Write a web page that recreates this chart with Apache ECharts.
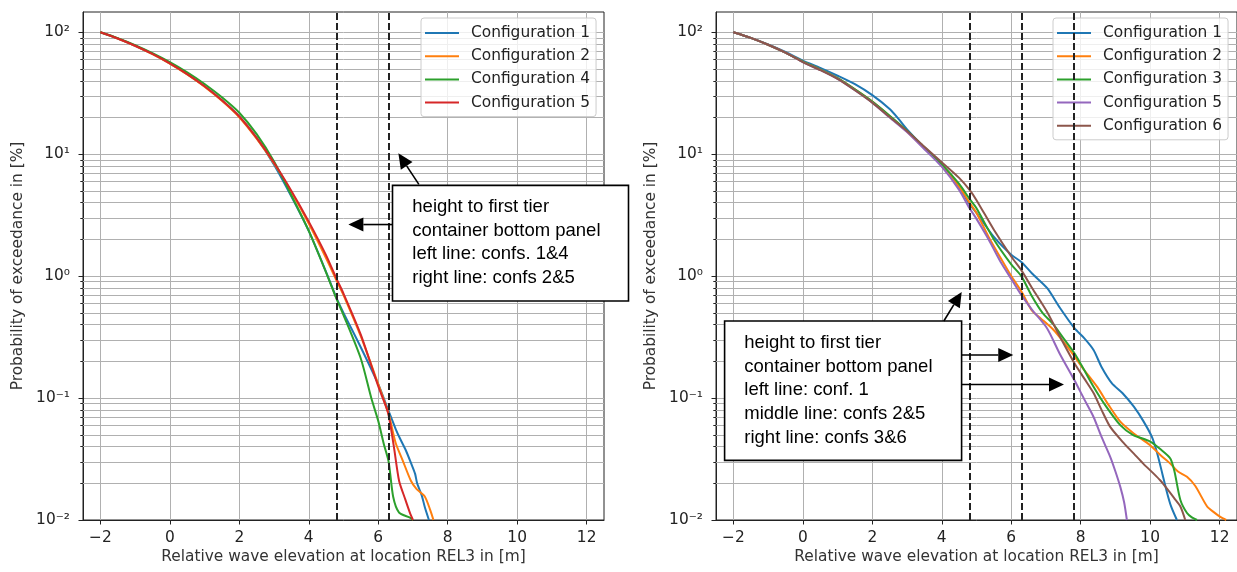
<!DOCTYPE html>
<html><head><meta charset="utf-8">
<script src="https://cdn.jsdelivr.net/npm/echarts@6/dist/echarts.min.js"></script>
<style>html,body{margin:0;padding:0;background:#fff}#c{width:1237px;height:572px}</style>
</head><body><div id="c"></div>
<script>
// ---------- data ----------
const xTicks = [-2, 0, 2, 4, 6, 8, 10, 12];
const yDecades = [0.01, 0.1, 1, 10, 100];
const yMinor = [0.02,0.03,0.04,0.05,0.06,0.07,0.08,0.09,0.2,0.3,0.4,0.5,0.6,0.7,0.8,0.9,2,3,4,5,6,7,8,9,20,30,40,50,60,70,80,90];

const leftNames = ['Configuration 1', 'Configuration 2', 'Configuration 4', 'Configuration 5'];
const leftColors = ['#1f77b4', '#ff7f0e', '#2ca02c', '#d62728'];
const rightNames = ['Configuration 1', 'Configuration 2', 'Configuration 3', 'Configuration 5', 'Configuration 6'];
const rightColors = ['#1f77b4', '#ff7f0e', '#2ca02c', '#9467bd', '#8c564b'];

const leftVLines = [4.8, 6.3];
const rightVLines = [4.8, 6.3, 7.8];

const L_conf1 = [[-2,100],[-1.5,89],[-1,77.6],[-0.5,66.4],[0,55.6],[0.5,45.4],[1,36.1],[1.5,27.7],[2,20.4],[2.5,13.6],[3,8.2],[3.5,4.5],[4,2.35],[4.5,1.08],[4.8,0.66],[5,0.5],[5.5,0.26],[6,0.13],[6.3,0.078],[6.5,0.056],[6.62,0.047],[6.8,0.037],[6.95,0.029],[7.06,0.024],[7.12,0.02],[7.25,0.016],[7.34,0.0128],[7.46,0.01]];
const L_conf2 = [[-2,100],[-1.5,89],[-1,77.5],[-0.5,66.2],[0,55.4],[0.5,45.1],[1,35.8],[1.5,27.4],[2,20.1],[2.5,13.4],[3,8.4],[3.5,4.9],[4,2.7],[4.5,1.4],[4.8,0.92],[5,0.7],[5.5,0.32],[6,0.13],[6.3,0.074],[6.5,0.043],[6.7,0.031],[6.94,0.021],[7.1,0.018],[7.34,0.0156],[7.5,0.012],[7.59,0.01]];
const L_conf4 = [[-2,100],[-1.5,89.5],[-1,78.5],[-0.5,67.5],[0,57],[0.5,47],[1,37.7],[1.5,29.3],[2,21.9],[2.5,14.6],[3,8.7],[3.5,4.6],[4,2.35],[4.5,1.07],[4.8,0.65],[5,0.48],[5.5,0.21],[5.8,0.1],[6,0.065],[6.16,0.042],[6.3,0.03],[6.43,0.0155],[6.6,0.0115],[6.9,0.0105],[7.0,0.01]];
const L_conf5 = [[-2,100],[-1.5,89],[-1,77.6],[-0.5,66.4],[0,55.6],[0.5,45.4],[1,36.1],[1.5,27.7],[2,20.4],[2.5,13.6],[3,8.5],[3.5,5.0],[4,2.8],[4.5,1.48],[4.8,0.95],[5,0.72],[5.5,0.33],[6,0.125],[6.28,0.076],[6.45,0.04],[6.6,0.021],[6.77,0.015],[6.91,0.0115],[7.0,0.01]];

const R_conf1 = [[-2,100],[-1.5,90],[-1,79.5],[-0.5,69],[0,58.5],[0.5,51],[1,44],[1.5,37.5],[2,30.5],[2.5,23.5],[2.75,19.6],[3,16],[3.5,11.3],[4,8.0],[4.5,5.4],[4.8,3.9],[5,3.3],[5.5,2.1],[6,1.5],[6.3,1.3],[6.6,1.05],[7.03,0.8],[7.4,0.55],[7.82,0.374],[8.1,0.31],[8.37,0.248],[8.6,0.18],[8.9,0.132],[9.2,0.11],[9.53,0.085],[9.8,0.065],[10.05,0.048],[10.2,0.0355],[10.35,0.024],[10.49,0.0166],[10.6,0.013],[10.77,0.01]];
const R_conf2 = [[-2,100],[-1.5,90],[-1,79],[-0.5,68],[0,57.5],[0.5,49.5],[1,42],[1.5,34],[2,27],[2.5,20.5],[3,15.3],[3.5,11.2],[4,8.1],[4.5,5.4],[4.8,4.0],[5,3.3],[5.35,2.1],[5.7,1.4],[6,1.0],[6.29,0.75],[6.6,0.52],[6.85,0.45],[7.22,0.362],[7.5,0.29],[7.79,0.226],[8.1,0.17],[8.47,0.124],[8.8,0.088],[9.14,0.064],[9.5,0.052],[10.0,0.041],[10.3,0.034],[10.58,0.029],[10.8,0.025],[11.06,0.0226],[11.3,0.019],[11.64,0.0129],[11.85,0.0115],[12.02,0.0106],[12.19,0.01]];
const R_conf3 = [[-2,100],[-1.5,90],[-1,79],[-0.5,68],[0,57.5],[0.5,49.5],[1,42],[1.5,34],[2,27],[2.5,20.7],[3,15.6],[3.5,11.4],[4,8.3],[4.5,5.7],[4.8,4.3],[5,3.6],[5.5,2.0],[6,1.25],[6.29,1.0],[6.6,0.68],[6.9,0.5],[7.22,0.40],[7.5,0.31],[7.82,0.233],[8.1,0.17],[8.37,0.124],[8.7,0.088],[9.14,0.06],[9.5,0.05],[10.0,0.044],[10.3,0.038],[10.58,0.032],[10.7,0.025],[10.87,0.0146],[11.06,0.0114],[11.2,0.0105],[11.35,0.01]];
const R_conf5 = [[-2,100],[-1.5,90],[-1,79],[-0.5,68],[0,57],[0.5,49],[1,41.5],[1.5,33.5],[2,26.5],[2.5,20],[3,15.2],[3.5,11.0],[4,7.9],[4.5,5.1],[4.8,3.6],[5,2.95],[5.35,2.0],[5.7,1.3],[6,0.95],[6.29,0.70],[6.6,0.53],[7.03,0.374],[7.4,0.23],[7.82,0.14],[8.1,0.098],[8.37,0.07],[8.6,0.048],[8.85,0.033],[9.0,0.025],[9.14,0.0187],[9.25,0.014],[9.33,0.01]];
const R_conf6 = [[-2,100],[-1.5,90],[-1,79],[-0.5,68],[0,57],[0.5,49],[1,41.5],[1.5,33.5],[2,26.5],[2.5,20.2],[3,15.5],[3.5,11.5],[4,8.6],[4.5,6.4],[4.8,5.1],[5,4.2],[5.5,2.4],[6,1.45],[6.29,1.12],[6.6,0.8],[7.03,0.51],[7.4,0.32],[7.82,0.193],[8.1,0.145],[8.37,0.11],[8.6,0.08],[8.85,0.058],[9.2,0.044],[9.53,0.035],[9.8,0.029],[10.1,0.024],[10.3,0.021],[10.49,0.018],[10.7,0.015],[10.87,0.0129],[11.01,0.01]];

const leftData = [L_conf1, L_conf2, L_conf4, L_conf5];
const rightData = [R_conf1, R_conf2, R_conf3, R_conf5, R_conf6];

const leftNote = ['height to first tier', 'container bottom panel', 'left line: confs. 1&4', 'right line: confs 2&5'];
const rightNote = ['height to first tier', 'container bottom panel', 'left line: conf. 1', 'middle line: confs 2&5', 'right line: confs 3&6'];
// arrows: [tail, tip] in data coordinates of each panel
const leftArrows = [[[7.17, 5.66], [6.58, 10.17]], [[6.41, 2.65], [5.14, 2.65]]];
const rightArrows = [[[4.06, 0.4285], [4.574, 0.7425]], [[4.574, 0.2255], [6.058, 0.2255]], [[4.574, 0.1292], [7.52, 0.1292]]];

// ---------- chart ----------
const FONT = 'DejaVu Sans';
const TXT = '#222';
const GRIDC = '#b0b0b0';
const sup = {'-': '\u207b', '0': '\u2070', '1': '\u00b9', '2': '\u00b2'};
function yFmt(v) {
  const l = Math.log10(v), e = Math.round(l);
  if (Math.abs(l - e) > 1e-6) return '';
  return '10' + String(e).split('').map(c => sup[c]).join('');
}
function xFmt(v) {
  if (xTicks.indexOf(v) < 0) return '';
  return v < 0 ? '\u2212' + (-v) : String(v);
}

const grids = [
  {left: 83, top: 12, width: 521, height: 508},
  {left: 716, top: 12, width: 521, height: 508}
].map(g => Object.assign(g, {show: true, borderColor: '#222', borderWidth: 1, backgroundColor: 'transparent'}));

const xAxes = [0, 1].map(i => ({
  gridIndex: i, type: 'value', min: -2.5, max: 12.5, splitNumber: 7,
  axisLine: {show: true, onZero: false, lineStyle: {color: '#222', width: 1}},
  axisTick: {show: true, length: 4.5, lineStyle: {color: '#222'}, customValues: xTicks},
  axisLabel: {customValues: xTicks, margin: 10, fontFamily: FONT, fontSize: 15.4, color: TXT, formatter: xFmt},
  splitLine: {show: true, lineStyle: {color: GRIDC, width: 1}},
  name: 'Relative wave elevation at location REL3 in [m]', nameLocation: 'middle', nameGap: 27,
  nameTextStyle: {fontFamily: FONT, fontSize: 15.4, color: '#333'}
}));

const yMain = [0, 1].map(i => ({
  gridIndex: i, type: 'log', logBase: 10, min: 0.01, max: 146.7, position: 'left',
  axisLine: {show: true, onZero: false, lineStyle: {color: '#222', width: 1}},
  axisTick: {show: true, length: 4.5, lineStyle: {color: '#222'}, customValues: yDecades},
  axisLabel: {customValues: yDecades, margin: 13, fontFamily: FONT, fontSize: 15.4, color: TXT, formatter: yFmt},
  splitLine: {show: true, lineStyle: {color: GRIDC, width: 1}},
  name: 'Probability of exceedance in [%]', nameLocation: 'middle', nameGap: 58, nameRotate: 90,
  nameTextStyle: {fontFamily: FONT, fontSize: 15.4, color: '#333'}
}));
const yMinorAx = [0, 1].map(i => ({
  gridIndex: i, type: 'log', logBase: 10, min: 0.01, max: 146.7, position: 'left',
  axisLine: {show: false, onZero: false},
  axisTick: {show: true, length: 2.7, lineStyle: {color: '#222'}, customValues: yMinor},
  axisLabel: {show: false}, splitLine: {show: false}
}));

const series = [];
function addPanel(i, names, colors, datas, vlines) {
  series.push({
    type: 'line', name: '_grid' + i, xAxisIndex: i, yAxisIndex: i, data: [], silent: true,
    markLine: {silent: true, z: 1, symbol: ['none', 'none'], label: {show: false}, animation: false,
      lineStyle: {color: GRIDC, width: 1, type: 'solid'}, emphasis: {disabled: true},
      data: yMinor.map(v => ({yAxis: v}))}
  });
  names.forEach((n, k) => series.push({
    type: 'line', name: n, xAxisIndex: i, yAxisIndex: i, data: datas[k], z: 2,
    showSymbol: false, symbol: 'none', smooth: 0.25, clip: true,
    lineStyle: {width: 2, color: colors[k]}, itemStyle: {color: colors[k]}, emphasis: {disabled: true}
  }));
  series.push({
    type: 'line', name: '_vl' + i, xAxisIndex: i, yAxisIndex: i, data: [], silent: true,
    markLine: {silent: true, z: 5, symbol: ['none', 'none'], label: {show: false}, animation: false,
      lineStyle: {color: '#222', width: 2, type: [7, 3]}, emphasis: {disabled: true},
      data: vlines.map(v => ({xAxis: v}))}
  });
}
addPanel(0, leftNames, leftColors, leftData, leftVLines);
addPanel(1, rightNames, rightColors, rightData, rightVLines);

function legend(left, names, colors) {
  return {
    left: left, top: 18, orient: 'vertical', selectedMode: false, icon: 'rect',
    itemWidth: 34, itemHeight: 2, itemGap: 5.2, padding: [6, 6, 5, 4],
    backgroundColor: 'rgba(255,255,255,0.8)', borderColor: '#cccccc', borderWidth: 1, borderRadius: 3,
    textStyle: {fontFamily: FONT, fontSize: 15.4, color: TXT, lineHeight: 18, padding: [0, 0, 0, 7]},
    data: names.map((n, k) => ({name: n, itemStyle: {color: colors[k], borderWidth: 0}}))
  };
}

const chart = echarts.init(document.getElementById('c'), null, {renderer: 'canvas'});
chart.setOption({
  animation: false,
  backgroundColor: '#fff',
  grid: grids,
  xAxis: xAxes,
  yAxis: yMain.concat(yMinorAx),
  legend: [legend(421, leftNames, leftColors), legend(1053, rightNames, rightColors)],
  series: series
});

// ---------- annotations ----------
function arrow(gi, tailD, tipD) {
  const t = chart.convertToPixel({gridIndex: gi}, tailD);
  const h = chart.convertToPixel({gridIndex: gi}, tipD);
  const dx = h[0] - t[0], dy = h[1] - t[1], L = Math.hypot(dx, dy);
  const ux = dx / L, uy = dy / L, nx = -uy, ny = ux;
  const HL = 15, HW = 7;
  const bx = h[0] - ux * HL, by = h[1] - uy * HL;
  return [
    {type: 'line', z: 101, shape: {x1: t[0], y1: t[1], x2: bx, y2: by}, style: {stroke: '#000', lineWidth: 1.6}},
    {type: 'polygon', z: 101, shape: {points: [[h[0], h[1]], [bx + nx * HW, by + ny * HW], [bx - nx * HW, by - ny * HW]]}, style: {fill: '#000'}}
  ];
}
function noteBox(x, y, w, h, tx, ty, lines) {
  return [
    {type: 'rect', z: 100, shape: {x: x, y: y, width: w, height: h}, style: {fill: '#fff', stroke: '#000', lineWidth: 1.6}},
    {type: 'text', z: 102, style: {x: tx, y: ty, text: lines.join('\n'), fontFamily: 'Liberation Sans', fontSize: 18.5,
      lineHeight: 23.65, fill: '#000', verticalAlign: 'top', align: 'left'}}
  ];
}
let g = [];
g = g.concat(noteBox(392.5, 185.4, 236, 115.6, 412.3, 207 - 11.8, leftNote));
leftArrows.forEach(a => { g = g.concat(arrow(0, a[0], a[1])); });
g = g.concat(noteBox(724.6, 321, 237, 139.4, 744.3, 343 - 11.8, rightNote));
rightArrows.forEach(a => { g = g.concat(arrow(1, a[0], a[1])); });
chart.setOption({graphic: g});
</script>
</body></html>
